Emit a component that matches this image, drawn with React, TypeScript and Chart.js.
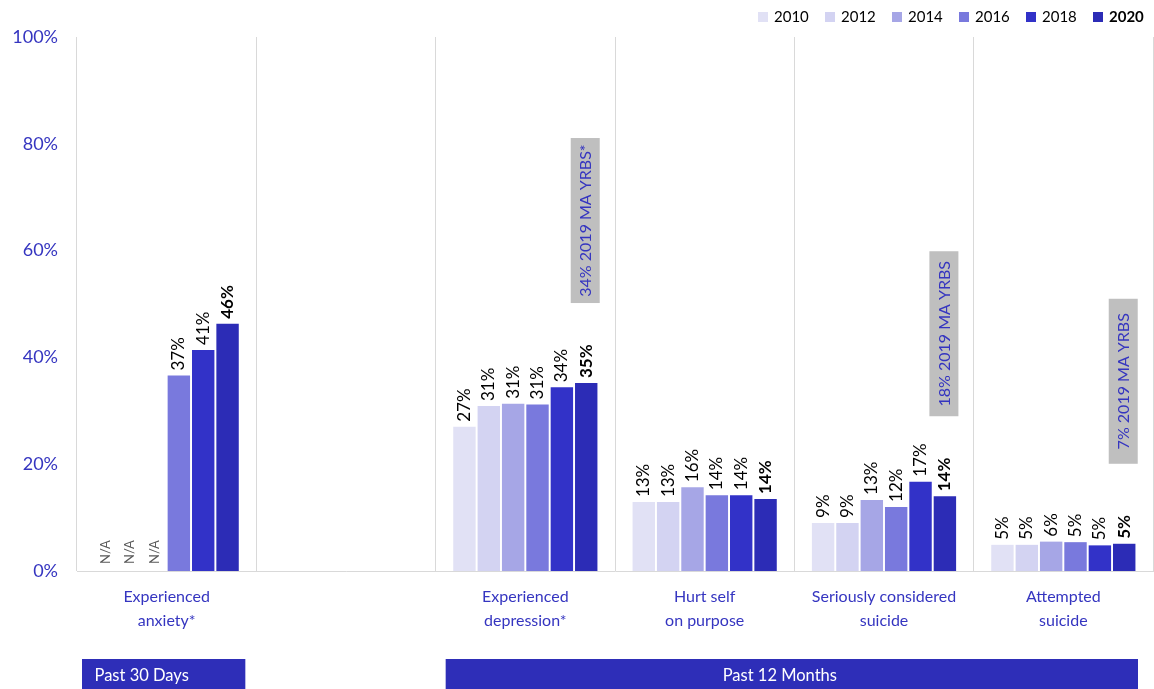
import React, { useEffect, useRef } from "react";
import { Chart, registerables } from "chart.js";

Chart.register(...registerables);

const categories: string[][] = [
  ["Experienced", "anxiety*"],
  [""],
  ["Experienced", "depression*"],
  ["Hurt self", "on purpose"],
  ["Seriously considered", "suicide"],
  ["Attempted", "suicide"],
];
const years = ["2010", "2012", "2014", "2016", "2018", "2020"];
const v2010: (number | null)[] = [null, null, 27.0, 12.9, 9.0, 4.9];
const v2012: (number | null)[] = [null, null, 30.9, 12.9, 9.0, 4.9];
const v2014: (number | null)[] = [null, null, 31.3, 15.7, 13.3, 5.5];
const v2016: (number | null)[] = [36.6, null, 31.2, 14.2, 12.0, 5.4];
const v2018: (number | null)[] = [41.4, null, 34.4, 14.2, 16.7, 4.8];
const v2020: (number | null)[] = [46.3, null, 35.2, 13.5, 14.0, 5.1];
const yTicks = [0, 20, 40, 60, 80, 100];
const benchmarks: (string | null)[] = [null, null, "34% 2019 MA YRBS*", null, "18% 2019 MA YRBS", "7% 2019 MA YRBS"];
const bandLabels = ["Past 30 Days", "Past 12 Months"];
const bandFrom = [0, 2];
const bandTo = [0, 5];

const seriesValues = [v2010, v2012, v2014, v2016, v2018, v2020];
const colors = ["#E1E1F5", "#D3D3F2", "#A6A6E6", "#7979DD", "#3232C8", "#2C2CB6"];
const BLUE = "#3535C0";
const BAND = "#2E2EB8";
const FONT = "Lato, 'Noto Sans', sans-serif";
const CAT_PCT = 0.815;

const overlay = {
  id: "overlay",
  afterDatasetsDraw(chart: any) {
    const ctx = chart.ctx;
    const xs = chart.scales.x;
    const ys = chart.scales.y;
    const catW = xs.getPixelForValue(1) - xs.getPixelForValue(0);
    const slot = (catW * CAT_PCT) / years.length;
    ctx.save();
    seriesValues.forEach((vals, j) => {
      const meta = chart.getDatasetMeta(j);
      vals.forEach((v, i) => {
        const cx = xs.getPixelForValue(i) + (j - (years.length - 1) / 2) * slot;
        if (v === null) {
          if (categories[i][0] !== "") {
            ctx.save();
            ctx.translate(cx, ys.getPixelForValue(0) - 7);
            ctx.rotate(-Math.PI / 2);
            ctx.font = `13px ${FONT}`;
            ctx.fillStyle = "#595959";
            ctx.textAlign = "left";
            ctx.textBaseline = "middle";
            ctx.fillText("N/A", 0, 0);
            ctx.restore();
          }
          return;
        }
        const el = meta.data[i];
        ctx.save();
        ctx.translate(el.x, el.y - 5);
        ctx.rotate(-Math.PI / 2);
        ctx.font = `${j === years.length - 1 ? "bold " : ""}17px ${FONT}`;
        ctx.fillStyle = "#000000";
        ctx.textAlign = "left";
        ctx.textBaseline = "middle";
        ctx.fillText(Math.round(v) + "%", 0, 0);
        ctx.restore();
      });
    });
    benchmarks.forEach((b, i) => {
      if (!b) return;
      const last = years.length - 1;
      const cx = xs.getPixelForValue(i) + (last - (years.length - 1) / 2) * slot - 1;
      const topBar = ys.getPixelForValue(seriesValues[last][i] as number);
      const bottom = Math.min(topBar - 80, 471);
      const h = 165;
      const w = 29;
      ctx.fillStyle = "#BFBFBF";
      ctx.fillRect(cx - w / 2, bottom - h, w, h);
      ctx.save();
      ctx.translate(cx, bottom - h / 2);
      ctx.rotate(-Math.PI / 2);
      ctx.font = `16px ${FONT}`;
      ctx.fillStyle = BLUE;
      ctx.textAlign = "center";
      ctx.textBaseline = "middle";
      ctx.fillText(b, 0, 1);
      ctx.restore();
    });
    ctx.restore();
  },
  afterDraw(chart: any) {
    const ctx = chart.ctx;
    const xs = chart.scales.x;
    const catW = xs.getPixelForValue(1) - xs.getPixelForValue(0);
    ctx.save();
    let lx = 758;
    years.forEach((yr, j) => {
      const bold = j === years.length - 1;
      ctx.font = `${bold ? "bold " : ""}15px ${FONT}`;
      ctx.fillStyle = colors[j];
      ctx.fillRect(lx, 12, 10, 10);
      ctx.fillStyle = "#000000";
      ctx.textAlign = "left";
      ctx.textBaseline = "middle";
      ctx.fillText(yr, lx + 16, 17.5);
      lx += 67;
    });
    bandLabels.forEach((lab, k) => {
      const left = xs.getPixelForValue(bandFrom[k]) - catW / 2 + (k === 0 ? 5 : 10);
      const right = xs.getPixelForValue(bandTo[k]) + catW / 2 - (k === 0 ? 11 : 15);
      ctx.fillStyle = BAND;
      ctx.fillRect(left, 659, right - left, 30);
      ctx.fillStyle = "#FFFFFF";
      ctx.font = `16.5px ${FONT}`;
      ctx.textAlign = "center";
      ctx.textBaseline = "middle";
      const cx = (left + right) / 2 - (k === 0 ? 22 : 12);
      ctx.fillText(lab, cx, 676);
    });
    ctx.restore();
  },
};

export default function App() {
  const ref = useRef<HTMLCanvasElement | null>(null);
  useEffect(() => {
    document.body.style.margin = "0";
    const chart = new Chart(ref.current as HTMLCanvasElement, {
      type: "bar",
      data: {
        labels: categories,
        datasets: years.map((yr, j) => ({
          label: yr,
          data: seriesValues[j],
          backgroundColor: colors[j],
          borderWidth: 0,
          categoryPercentage: CAT_PCT,
          barPercentage: 0.92,
        })),
      },
      options: {
        animation: false,
        responsive: false,
        maintainAspectRatio: false,
        layout: { padding: { top: 37, right: 1, bottom: 0, left: 0 } },
        plugins: { legend: { display: false }, tooltip: { enabled: false } },
        scales: {
          x: {
            grid: { color: "#D9D9D9", drawTicks: false, offset: true },
            border: { color: "#D9D9D9" },
            ticks: {
              color: BLUE,
              font: { family: FONT, size: 16, lineHeight: 1.5 },
              padding: 14,
              maxRotation: 0,
              autoSkip: false,
            },
            afterFit: (s: any) => {
              s.height = 118;
            },
          },
          y: {
            min: 0,
            max: 100,
            afterBuildTicks: (s: any) => {
              s.ticks = yTicks.map((v) => ({ value: v }));
            },
            grid: { display: false },
            border: { display: false },
            ticks: {
              color: BLUE,
              font: { family: FONT, size: 18 },
              padding: 11,
              callback: (v: any) => v + "%",
            },
            afterFit: (s: any) => {
              s.width = 77;
            },
          },
        },
      },
      plugins: [overlay],
    });
    return () => chart.destroy();
  }, []);
  return (
    <div style={{ position: "absolute", left: 0, top: 0, width: 1154, height: 689 }}>
      <canvas ref={ref} width={1154} height={689} style={{ width: 1154, height: 689 }} />
    </div>
  );
}
